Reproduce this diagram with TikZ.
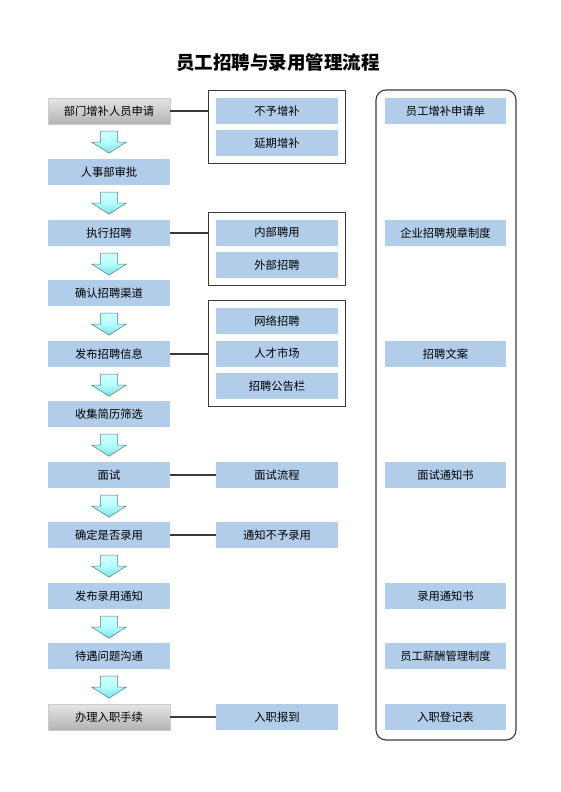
\documentclass[tikz,border=0pt]{standalone}
\usepackage{fontspec}
\setmainfont{Noto Sans CJK SC}
\usetikzlibrary{fit,calc}
\definecolor{boxblue}{HTML}{B1CDEA}
\definecolor{framegray}{HTML}{3A3A3A}
\tikzset{
  bluebox/.style={draw=none,fill=boxblue,minimum width=122pt,minimum height=26pt,inner sep=0pt,font=\fontsize{11.3}{13}\selectfont},
  graybox/.style={bluebox,fill=none,top color=black!10,bottom color=black!30,draw=black!20},
  groupframe/.style={draw=framegray,line width=1.1pt,inner sep=7pt},
  link/.style={draw=framegray,line width=1.1pt},
  blockarrow/.style={draw=teal!45!gray,line width=0.5pt,top color=cyan!18,bottom color=cyan!45!teal!50,middle color=cyan!30},
}
\newcommand{\downarrowbetween}[2]{%
  \draw[blockarrow] ([yshift=-7pt]#1.south) ++(-8.5pt,0) -- ++(17pt,0) -- ++(0,-11pt) -- ++(8.5pt,0)
     -- ++(-17pt,-11pt) -- ++(-17pt,11pt) -- ++(8.5pt,0) -- cycle;}
\begin{document}
\begin{tikzpicture}[x=1pt,y=-1pt]
\useasboundingbox (0,0) rectangle (560,792);
\node[font=\bfseries\fontsize{18.5}{21}\selectfont] (title) at (278,62) {员工招聘与录用管理流程};
% left column
\node[graybox] (l1) at (109,111) {部门增补人员申请};
\node[bluebox] (l2) at (109,172) {人事部审批};
\node[bluebox] (l3) at (109,233) {执行招聘};
\node[bluebox] (l4) at (109,293) {确认招聘渠道};
\node[bluebox] (l5) at (109,354) {发布招聘信息};
\node[bluebox] (l6) at (109,414) {收集简历筛选};
\node[bluebox] (l7) at (109,475) {面试};
\node[bluebox] (l8) at (109,535) {确定是否录用};
\node[bluebox] (l9) at (109,596) {发布录用通知};
\node[bluebox] (l10) at (109,656) {待遇问题沟通};
\node[graybox] (l11) at (109,717) {办理入职手续};
\foreach \a/\b in {l1/l2,l2/l3,l3/l4,l4/l5,l5/l6,l6/l7,l7/l8,l8/l9,l9/l10,l10/l11}{\downarrowbetween{\a}{\b}}
% middle column
\node[bluebox] (m1) at (277,111) {不予增补};
\node[bluebox] (m2) at (277,143) {延期增补};
\node[bluebox] (m3) at (277,232.5) {内部聘用};
\node[bluebox] (m4) at (277,265) {外部招聘};
\node[bluebox] (m5) at (277,321) {网络招聘};
\node[bluebox] (m6) at (277,353.5) {人才市场};
\node[bluebox] (m7) at (277,386) {招聘公告栏};
\node[bluebox] (m8) at (277,475) {面试流程};
\node[bluebox] (m9) at (277,535) {通知不予录用};
\node[bluebox] (m10) at (277,717) {入职报到};
\node[groupframe,fit=(m1)(m2)] (g1) {};
\node[groupframe,fit=(m3)(m4)] (g2) {};
\node[groupframe,fit=(m5)(m6)(m7)] (g3) {};
\draw[link] (l1.east) -- (l1.east -| g1.west);
\draw[link] (l3.east) -- (l3.east -| g2.west);
\draw[link] (l5.east) -- (l5.east -| g3.west);
\draw[link] (l7.east) -- (m8.west);
\draw[link] (l8.east) -- (m9.west);
\draw[link] (l11.east) -- (m10.west);
% right column
\node[bluebox,minimum width=121pt] (r1) at (445.5,111) {员工增补申请单};
\node[bluebox,minimum width=121pt] (r2) at (445.5,233) {企业招聘规章制度};
\node[bluebox,minimum width=121pt] (r3) at (445.5,354) {招聘文案};
\node[bluebox,minimum width=121pt] (r4) at (445.5,475) {面试通知书};
\node[bluebox,minimum width=121pt] (r5) at (445.5,596) {录用通知书};
\node[bluebox,minimum width=121pt] (r6) at (445.5,656) {员工薪酬管理制度};
\node[bluebox,minimum width=121pt] (r7) at (445.5,717) {入职登记表};
\draw[draw=framegray,line width=1.1pt,rounded corners=10pt] (376,90) rectangle (516,740);
\end{tikzpicture}
\end{document}
